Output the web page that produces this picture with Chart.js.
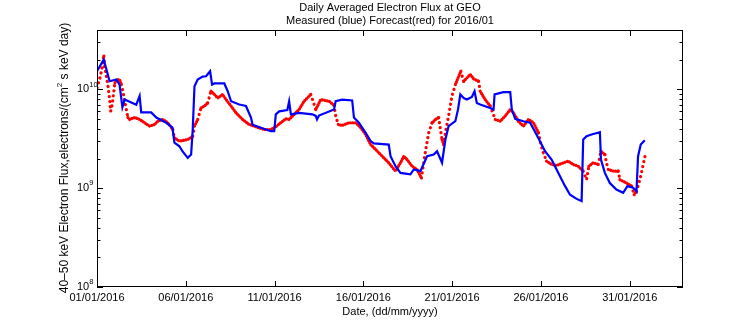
<!DOCTYPE html>
<html>
<head>
<meta charset="utf-8">
<script src="https://cdn.jsdelivr.net/npm/chart.js@4.4.1/dist/chart.umd.min.js"></script>
<style>
html, body { margin: 0; padding: 0; background: #fff; }
</style>
</head>
<body>
<canvas id="flux" width="756" height="324"></canvas>
<script>
// days since 01/01/2016 00:00
var measuredDays = [0, 0.38, 0.71, 1.09, 1.27, 1.43, 1.56, 2.21, 2.40, 2.49,
    3.05, 3.34, 3.90, 4.25, 4.36, 4.64, 4.81, 5.11, 5.30, 5.39,
    5.49, 5.67, 5.95, 6.14, 6.37, 6.48, 6.61, 7.17, 7.36, 7.55,
    8.01, 8.39, 8.67, 8.76, 9.23, 9.79, 9.98, 10.07, 10.26, 10.72,
    10.82, 10.92, 11.38, 12.13, 12.32, 12.39, 12.50, 13.35, 13.44, 13.81,
    14.37, 14.47, 14.75, 15.13, 15.41, 15.59, 16.43, 16.53, 16.81, 17.09,
    17.65, 17.84, 18.21, 18.59, 18.96, 19.15, 19.43, 19.62, 19.80, 20.18,
    20.33, 20.46, 20.65, 20.83, 21.11, 21.26, 21.39, 21.58, 22.14, 22.33,
    22.39, 22.89, 23.27, 23.36, 23.55, 24.01, 24.39, 24.86, 25.23, 25.60,
    25.98, 26.36, 26.64, 27.01, 27.29, 27.38, 27.57, 27.85, 28.32, 28.38,
    28.60, 28.88, 29.25, 29.63, 29.87, 30.19, 30.38, 30.47, 30.62, 30.85];
var measuredFlux = [1.53e10, 2.01e10, 1.21e10, 1.26e10, 1.12e10, 6.6e9, 7.9e9, 7.0e9, 8.6e9, 5.85e9,
    5.85e9, 5.2e9, 4.6e9, 4.1e9, 2.9e9, 2.66e9, 2.37e9, 2.03e9, 2.19e9, 3.9e9,
    1.08e10, 1.26e10, 1.35e10, 1.36e10, 1.53e10, 1.12e10, 1.15e10, 1.15e10, 9.6e9, 7.6e9,
    7.05e9, 6.8e9, 5.2e9, 4.4e9, 4.1e9, 3.78e9, 3.78e9, 5.6e9, 6.0e9, 6.2e9,
    7.6e9, 5.6e9, 5.8e9, 5.6e9, 5.4e9, 4.97e9, 5.45e9, 6.27e9, 7.6e9, 7.9e9,
    7.75e9, 5.2e9, 4.6e9, 3.64e9, 3.0e9, 2.84e9, 2.77e9, 2.11e9, 1.67e9, 1.43e9,
    1.38e9, 1.55e9, 1.49e9, 2.11e9, 2.19e9, 2.37e9, 1.81e9, 3.11e9, 4.25e9, 4.77e9,
    6.27e9, 8.9e9, 8.2e9, 7.9e9, 8.4e9, 9.6e9, 7.3e9, 7.05e9, 6.5e9, 6.27e9,
    8.9e9, 9.4e9, 9.4e9, 6.27e9, 5.05e9, 4.77e9, 4.6e9, 3.2e9, 2.37e9, 1.95e9,
    1.43e9, 1.05e9, 8.6e8, 7.8e8, 7.4e8, 3.11e9, 3.37e9, 3.5e9, 3.69e9, 1.95e9,
    1.43e9, 1.13e9, 9.7e8, 9.0e8, 1.05e9, 1.01e9, 9.3e8, 2.11e9, 2.77e9, 3.06e9];

var forecastDays = [0, 0.19, 0.30, 0.38, 0.43, 0.53, 0.62, 0.71, 0.77, 0.86,
    0.94, 1.01, 1.12, 1.27, 1.37, 1.46, 1.56, 1.65, 1.74, 1.84,
    2.12, 2.40, 2.68, 2.96, 3.24, 3.43, 3.71, 3.99, 4.27, 4.36,
    4.64, 4.92, 5.20, 5.39, 5.49, 5.67, 5.86, 6.05, 6.23, 6.42,
    6.61, 6.80, 7.07, 7.27, 7.55, 7.83, 8.20, 8.57, 8.95, 9.42,
    9.79, 10.07, 10.35, 10.63, 10.82, 11.10, 11.38, 11.66, 12.04, 12.32,
    12.60, 13.07, 13.35, 13.44, 13.59, 13.81, 14.19, 14.57, 14.85, 15.13,
    15.41, 15.69, 16.06, 16.43, 16.81, 17.09, 17.28, 17.46, 17.74, 18.02,
    18.27, 18.34, 18.50, 18.68, 18.87, 19.06, 19.24, 19.34, 19.43, 19.52,
    19.62, 19.80, 19.99, 20.18, 20.37, 20.49, 20.65, 20.83, 21.02, 21.21,
    21.49, 21.58, 21.86, 22.14, 22.43, 22.71, 22.99, 23.27, 23.45, 23.73,
    24.01, 24.30, 24.58, 24.86, 25.00, 25.13, 25.32, 25.60, 25.88, 26.17,
    26.54, 26.82, 27.10, 27.38, 27.57, 27.70, 27.94, 28.23, 28.38, 28.60,
    28.69, 28.79, 29.07, 29.35, 29.45, 29.82, 30.10, 30.25, 30.38, 30.57,
    30.70, 30.88];
var forecastFlux = [1.04e10, 1.36e10, 1.72e10, 2.26e10, 1.72e10, 1.36e10, 1.08e10, 7.9e9, 6.0e9, 7.05e9,
    9.3e9, 1.17e10, 1.26e10, 1.26e10, 1.12e10, 9.6e9, 7.6e9, 6.27e9, 5.2e9, 4.97e9,
    5.2e9, 4.97e9, 4.6e9, 4.25e9, 4.42e9, 4.77e9, 4.97e9, 4.6e9, 3.93e9, 3.24e9,
    3.0e9, 3.06e9, 3.16e9, 3.37e9, 4.25e9, 4.97e9, 6.5e9, 6.8e9, 7.3e9, 9.6e9,
    8.9e9, 8.2e9, 8.9e9, 7.9e9, 6.8e9, 5.8e9, 4.97e9, 4.42e9, 4.19e9, 3.93e9,
    3.93e9, 4.19e9, 4.6e9, 5.05e9, 4.97e9, 5.6e9, 6.27e9, 7.6e9, 8.9e9, 6.27e9,
    7.9e9, 7.6e9, 6.9e9, 5.4e9, 4.42e9, 4.32e9, 4.6e9, 4.6e9, 4.1e9, 3.5e9,
    2.77e9, 2.47e9, 2.11e9, 1.81e9, 1.49e9, 1.81e9, 2.11e9, 1.95e9, 1.67e9, 1.55e9,
    1.27e9, 1.55e9, 2.37e9, 3.64e9, 4.6e9, 4.97e9, 5.2e9, 3.93e9, 3.11e9, 2.77e9,
    3.64e9, 5.4e9, 8.6e9, 1.12e10, 1.36e10, 1.53e10, 1.21e10, 1.31e10, 1.42e10, 1.28e10,
    1.21e10, 9.6e9, 7.9e9, 6.8e9, 4.97e9, 4.77e9, 5.4e9, 6.27e9, 5.8e9, 4.77e9,
    4.25e9, 4.97e9, 4.6e9, 3.64e9, 2.77e9, 2.29e9, 1.88e9, 1.74e9, 1.70e9, 1.78e9,
    1.88e9, 1.74e9, 1.67e9, 1.49e9, 1.22e9, 1.67e9, 1.81e9, 1.74e9, 2.37e9, 2.19e9,
    1.81e9, 1.55e9, 1.49e9, 1.49e9, 1.22e9, 1.13e9, 1.05e9, 8.6e8, 9.3e8, 1.22e9,
    1.55e9, 2.19e9];

var dayTicks = [0, 5, 10, 15, 20, 25, 30];
var fluxTicks = [1e8, 1e9, 1e10];
var fluxExps = ['8', '9', '10'];

var FONT = '"Liberation Sans", Arial, Helvetica, sans-serif';

function dateLabel(d) {
    return ('0' + (d + 1)).slice(-2) + '/01/2016';
}

function toPoints(xs, ys) {
    var pts = [];
    for (var i = 0; i < xs.length; i++) pts.push({ x: xs[i], y: ys[i] });
    return pts;
}

var framePlugin = {
    id: 'frame',
    afterDraw: function (chart) {
        var ctx = chart.ctx, a = chart.chartArea;
        var xs = chart.scales.x, ys = chart.scales.y;
        ctx.save();
        ctx.strokeStyle = '#000';
        ctx.lineWidth = 1;
        ctx.strokeRect(a.left + 0.5, a.top + 0.5, a.right - a.left - 1, a.bottom - a.top - 1);

        ctx.beginPath();
        dayTicks.forEach(function (d) {
            var px = Math.round(xs.getPixelForValue(d)) + 0.5;
            ctx.moveTo(px, a.bottom); ctx.lineTo(px, a.bottom - 6);
            ctx.moveTo(px, a.top); ctx.lineTo(px, a.top + 6);
        });
        // log ticks, major and minor
        for (var e = 8; e <= 10; e++) {
            for (var m = 1; m <= 9; m++) {
                var v = m * Math.pow(10, e);
                if (v >= ys.max) break;
                var py = Math.round(ys.getPixelForValue(v)) + 0.5;
                var len = m === 1 ? 6 : 3.5;
                ctx.moveTo(a.left, py); ctx.lineTo(a.left + len, py);
                ctx.moveTo(a.right, py); ctx.lineTo(a.right - len, py);
            }
        }
        ctx.stroke();

        ctx.fillStyle = '#000';
        ctx.textBaseline = 'middle';
        ctx.textAlign = 'left';
        fluxTicks.forEach(function (v, i) {
            var py = ys.getPixelForValue(v);
            ctx.font = '11px ' + FONT;
            ctx.fillText('10', 77, py);
            var w = ctx.measureText('10').width;
            ctx.font = '7.5px ' + FONT;
            ctx.fillText(fluxExps[i], 77 + w, py - 5);
        });

        // title
        ctx.textAlign = 'center';
        ctx.font = '11px ' + FONT;
        var cx = (a.left + a.right) / 2;
        ctx.fillText('Daily Averaged Electron Flux at GEO', cx, 8);
        ctx.fillText('Measured (blue) Forecast(red) for 2016/01', cx, 21);

        // y axis title
        var p1 = '40\u201350 keV Electron Flux,electrons/(cm', p2 = '2', p3 = ' s keV day)';
        ctx.font = '12px ' + FONT;
        var w1 = ctx.measureText(p1).width, w3 = ctx.measureText(p3).width;
        ctx.font = '8px ' + FONT;
        var w2 = ctx.measureText(p2).width;
        var total = w1 + w2 + w3;
        ctx.translate(65, 158);
        ctx.rotate(-Math.PI / 2);
        ctx.textAlign = 'left';
        ctx.font = '12px ' + FONT;
        ctx.fillText(p1, -total / 2, 0);
        ctx.font = '8px ' + FONT;
        ctx.fillText(p2, -total / 2 + w1, -5.5);
        ctx.font = '12px ' + FONT;
        ctx.fillText(p3, -total / 2 + w1 + w2, 0);
        ctx.restore();
    }
};

new Chart(document.getElementById('flux'), {
    type: 'line',
    data: {
        datasets: [{
            label: 'Measured',
            data: toPoints(measuredDays, measuredFlux),
            borderColor: '#0000ff',
            borderWidth: 2.2,
            pointRadius: 0,
            tension: 0
        }, {
            label: 'Forecast',
            data: toPoints(forecastDays, forecastFlux),
            borderColor: '#ff0000',
            borderWidth: 3.2,
            borderCapStyle: 'round',
            borderDash: [0.1, 2.4],
            pointRadius: 0,
            tension: 0,
            segment: {
                borderDash: function (c) {
                    var dx = Math.abs(c.p1.x - c.p0.x), dy = Math.abs(c.p1.y - c.p0.y);
                    return (dy > 2.5 * dx && dy > 6) ? [0.1, 5] : [0.1, 2.4];
                }
            }
        }]
    },
    options: {
        responsive: false,
        animation: false,
        devicePixelRatio: 1,
        layout: { padding: { top: 30, right: 73, left: 0, bottom: 0 } },
        plugins: {
            legend: { display: false },
            title: { display: false },
            tooltip: { enabled: false }
        },
        scales: {
            x: {
                type: 'linear',
                min: 0,
                max: 33,
                grid: { display: false, drawTicks: false },
                border: { display: false },
                afterBuildTicks: function (s) {
                    s.ticks = dayTicks.map(function (v) { return { value: v }; });
                },
                afterFit: function (s) { s.height = 37; },
                ticks: {
                    autoSkip: false,
                    maxRotation: 0,
                    padding: 4,
                    color: '#000',
                    font: { family: FONT, size: 11 },
                    callback: function (v) { return dateLabel(v); }
                },
                title: {
                    display: true,
                    text: 'Date, (dd/mm/yyyy)',
                    color: '#000',
                    font: { family: FONT, size: 11 },
                    padding: { top: 0, bottom: 5 }
                }
            },
            y: {
                type: 'logarithmic',
                min: 1e8,
                max: 4e10,
                grid: { display: false, drawTicks: false },
                border: { display: false },
                ticks: { display: false },
                afterFit: function (s) { s.width = 97; }
            }
        }
    },
    plugins: [framePlugin]
});
</script>
</body>
</html>
